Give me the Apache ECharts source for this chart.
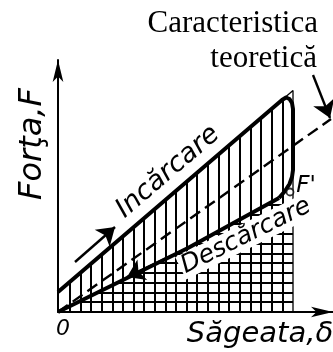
<!DOCTYPE html>
<html>
<head>
<meta charset="utf-8">
<script src="https://cdn.jsdelivr.net/npm/echarts@6/dist/echarts.min.js"></script>
<style>
html,body{margin:0;padding:0;background:#fff;}
#chart{width:333px;height:352px;}
</style>
</head>
<body>
<div id="chart"></div>
<script>
// sageata (x) - forta (y), unitati arbitrare citite de pe desen
var incarcare = [[0,0.8],[8.96,8.48],[9.12,8.58],[9.26,8.52],[9.36,8.36],[9.4,8.12],[9.4,5.68],[9.36,5.4],[9.26,5.12],[9.08,4.84],[8.84,4.56]];
var descarcare = [[0,0],[5.2,2.56],[8.84,4.56]];
var teoretica = [[0,0],[10.92,7.72]];
var limita = [[8.96,8.48],[9.4,8.86],[9.4,0]];
var punctF = [[9.28,4.8]];
var sageti = [
    [[0.68,2.0],[2.28,3.4]],
    [[4.6,2.28],[2.76,1.4]],
    [[10.2,9.48],[10.88,7.76]]
];
// hasura
var hasuraStart = 0.48, hasuraPasX = 0.425, hasuraPasY = 0.39, hasuraMaxX = 9.4;

function yLa(pts, x){
    for (var i = 0; i < pts.length - 1; i++) {
        var a = pts[i], b = pts[i+1];
        if (b[0] > a[0] && x >= a[0] && x <= b[0]) {
            return a[1] + (b[1]-a[1]) * (x-a[0]) / (b[0]-a[0]);
        }
    }
    return 0;
}
function xLa(pts, y){
    for (var i = 0; i < pts.length - 1; i++) {
        var a = pts[i], b = pts[i+1];
        if (y >= a[1] && y <= b[1]) {
            return a[0] + (b[0]-a[0]) * (y-a[1]) / (b[1]-a[1]);
        }
    }
    return 0;
}

function deseneazaHasura(params, api){
    var lin = [];
    var st = {stroke:'#000', lineWidth:2};
    for (var x = hasuraStart; x < hasuraMaxX - 0.05; x += hasuraPasX) {
        var p1 = api.coord([x, yLa(incarcare, x)]);
        var p2 = api.coord([x, 0]);
        var px = Math.round(p1[0]);
        lin.push({type:'line', shape:{x1:px, y1:p1[1], x2:px, y2:p2[1]}, style:st});
    }
    for (var y = hasuraPasY; y < 4.4; y += hasuraPasY) {
        var q1 = api.coord([xLa(descarcare, y), y]);
        var q2 = api.coord([hasuraMaxX, y]);
        var py = Math.round(q1[1]);
        lin.push({type:'line', shape:{x1:q1[0], y1:py, x2:q2[0], y2:py}, style:st});
    }
    return {type:'group', children: lin};
}

var myChart = echarts.init(document.getElementById('chart'));
var fontTehnic = '"DejaVu Sans"';

var option = {
    animation: false,
    grid: {left:58, right:0, top:60, bottom:40},
    xAxis: {
        type:'value', min:0, max:11,
        axisLine:{show:true, symbol:['none','arrow'], symbolSize:[8,22], lineStyle:{color:'#000', width:2}},
        axisTick:{show:false}, axisLabel:{show:false}, splitLine:{show:false}
    },
    yAxis: {
        type:'value', min:0, max:10.08,
        axisLine:{show:true, symbol:['none','arrow'], symbolSize:[8,22], lineStyle:{color:'#000', width:2}},
        axisTick:{show:false}, axisLabel:{show:false}, splitLine:{show:false}
    },
    series: [
        {
            type:'custom', renderItem: deseneazaHasura, data:[[0,0]], clip:false, silent:true, z:1
        },
        {
            name:'limita', type:'line', data:limita, showSymbol:false, clip:false,
            lineStyle:{color:'#000', width:1.3}, z:2
        },
        {
            name:'teoretica', type:'line', data:teoretica, showSymbol:false, clip:false,
            lineStyle:{color:'#000', width:2.4, type:[12,6]}, z:3
        },
        {
            name:'incarcare', type:'line', data:incarcare, showSymbol:false, clip:false,
            lineStyle:{color:'#000', width:4, join:'round'}, z:4
        },
        {
            name:'descarcare', type:'line', data:descarcare, showSymbol:false, clip:false,
            lineStyle:{color:'#000', width:4}, z:4
        },
        {
            type:'lines', coordinateSystem:'cartesian2d', clip:false,
            data: sageti.map(function(c){ return {coords:c}; }),
            symbol:['none','arrow'], symbolSize:[8,17],
            lineStyle:{color:'#000', width:2.4, opacity:1}, z:5
        },
        {
            type:'scatter', data:punctF, symbol:'circle', symbolSize:7, clip:false,
            itemStyle:{color:'#fff', borderColor:'#000', borderWidth:1.8}, z:6
        }
    ],
    graphic: [
        {type:'text', x:318, y:24, z:10, style:{text:'Caracteristica', font:'31px "Liberation Serif"', fill:'#000', align:'right', verticalAlign:'middle'}},
        {type:'text', x:317, y:59, z:10, style:{text:'teoretică', font:'31px "Liberation Serif"', fill:'#000', align:'right', verticalAlign:'middle'}},
        {type:'text', x:33, y:144, rotation:Math.PI/2, z:10, style:{text:'Forţa,F', font:'italic 32px ' + fontTehnic, fill:'#000', align:'center', verticalAlign:'middle'}},
        {type:'text', x:260, y:334, z:10, style:{text:'Săgeata,δ', font:'italic 29px ' + fontTehnic, fill:'#000', align:'center', verticalAlign:'middle'}},
        {type:'text', x:63, y:329, z:10, style:{text:'0', font:'italic 22px ' + fontTehnic, fill:'#000', align:'center', verticalAlign:'middle'}},
        {type:'text', x:306, y:186, z:10, style:{text:"F'", font:'italic 23px ' + fontTehnic, fill:'#000', align:'center', verticalAlign:'middle'}},
        {type:'text', x:168, y:172, rotation:0.707, z:10, style:{text:'Incărcare', font:'italic 27px ' + fontTehnic, fill:'#000', align:'center', verticalAlign:'middle'}},
        {type:'text', x:246, y:236, rotation:0.46, z:10, style:{text:'Descărcare', font:'italic 25px ' + fontTehnic, fill:'#000', align:'center', verticalAlign:'middle', backgroundColor:'#fff', padding:[0,2]}}
    ]
};
myChart.setOption(option);
</script>
</body>
</html>
